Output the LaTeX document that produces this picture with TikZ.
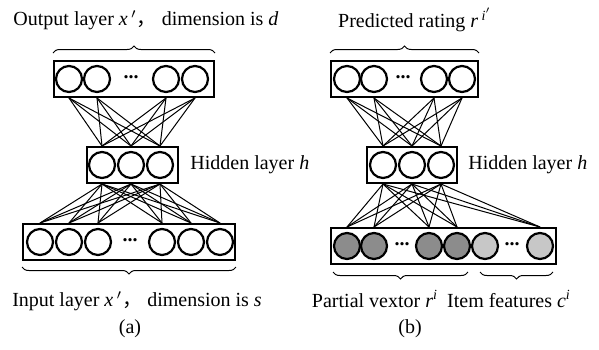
\documentclass[tikz,border=0pt]{standalone}
\usepackage{fontspec}
\setmainfont{Liberation Serif}
\newfontfamily\cjk{Noto Sans CJK SC}
\usepackage{tikz}
\usetikzlibrary{decorations.pathreplacing, positioning}

\begin{document}
\begin{tikzpicture}[x=0.5pt, y=-0.5pt,
            neuron/.style={draw, circle, line width=1.1pt, minimum size=13pt, inner sep=0pt, fill=white},
            layer/.style={draw, rectangle, line width=1pt, minimum height=18pt, inner sep=0pt},
            link/.style={line width=0.5pt},
            brace/.style={decorate, decoration={brace, amplitude=3.5pt}, line width=0.5pt},
            dots/.style={inner sep=0pt, font=\bfseries},
            txt/.style={inner sep=0pt}]

            \useasboundingbox (0,0) rectangle (599,349);

            % (a) autoencoder
            \node[layer, minimum width=80pt] (outa) at (134,79) {};
            \node[layer, minimum width=45.5pt] (hida) at (132.5,165) {};
            \node[layer, minimum width=106pt] (ina) at (129,242) {};

            \node[neuron] (oa1) at (69,79) {};
            \node[neuron] (oa2) at (97,79) {};
            \node[dots] at (131,77) {...};
            \node[neuron] (oa3) at (166,79) {};
            \node[neuron] (oa4) at (195,79) {};

            \node[neuron] (ha1) at (102,165) {};
            \node[neuron] (ha2) at (131,165) {};
            \node[neuron] (ha3) at (160,165) {};

            \node[neuron] (ia1) at (40,242) {};
            \node[neuron] (ia2) at (69,242) {};
            \node[neuron] (ia3) at (98,242) {};
            \node[dots] at (130,240) {...};
            \node[neuron] (ia4) at (162,242) {};
            \node[neuron] (ia5) at (191,242) {};
            \node[neuron] (ia6) at (220,242) {};

            \foreach \o in {oa1,oa2,oa3,oa4}
                \foreach \h in {ha1,ha2,ha3}
                    \draw[link] (\o |- outa.south) -- (\h |- hida.north);
            \foreach \h in {ha1,ha2,ha3}
                \foreach \i in {ia1,ia2,ia3,ia4,ia5,ia6}
                    \draw[link] (\h |- hida.south) -- (\i |- ina.north);

            \draw[brace] (outa.north west) ++(0,-7) coordinate (bra) -- (outa.north east |- bra);
            \draw[brace] (ina.south east) ++(0,6) coordinate (brb) -- (ina.south west |- brb);

            \node[txt] (titlea) at (146,20) {Output layer \textit{x}$\,'${\cjk ，} dimension is \textit{d}};
            \node[txt, anchor=west] (hidlaba) at (190,165) {Hidden layer \textit{h}};
            \node[txt] (inlaba) at (137,301) {Input layer \textit{x}$\,'${\cjk ，} dimension is \textit{s}};
            \node[txt] (capa) at (130,329) {(a)};

            % (b) rating model
            \node[layer, minimum width=73.5pt] (outb) at (404.5,79) {};
            \node[layer, minimum width=45pt] (hidb) at (412,165) {};
            \node[layer, minimum width=112.5pt] (inb) at (443.5,246) {};

            \node[neuron] (ob1) at (347,79) {};
            \node[neuron] (ob2) at (374,79) {};
            \node[dots] at (403,77) {...};
            \node[neuron] (ob3) at (434,79) {};
            \node[neuron] (ob4) at (462,79) {};

            \node[neuron] (hb1) at (383,165) {};
            \node[neuron] (hb2) at (412,165) {};
            \node[neuron] (hb3) at (441,165) {};

            \node[neuron, fill=black!45] (ib1) at (347,246) {};
            \node[neuron, fill=black!45] (ib2) at (374,246) {};
            \node[dots] at (402,244) {...};
            \node[neuron, fill=black!45] (ib3) at (429,246) {};
            \node[neuron, fill=black!45] (ib4) at (457,246) {};
            \node[neuron, fill=black!22] (ic1) at (485,246) {};
            \node[dots] at (512,244) {...};
            \node[neuron, fill=black!22] (ic2) at (540,246) {};

            \foreach \o in {ob1,ob2,ob3,ob4}
                \foreach \h in {hb1,hb2,hb3}
                    \draw[link] (\o |- outb.south) -- (\h |- hidb.north);
            \foreach \h in {hb1,hb2,hb3}
                \foreach \i in {ib1,ib2,ib3,ib4,ic2}
                    \draw[link] (\h |- hidb.south) -- (\i |- inb.north);

            \draw[brace] (outb.north west) ++(0,-7) coordinate (brc) -- (outb.north east |- brc);
            \draw[brace] (468,272) coordinate (brd) -- (333,272);
            \draw[brace] (553,272) coordinate (bre) -- (480,272);

            \node[txt] (titleb) at (415,20) {Predicted rating \textit{r}\,\textsuperscript{\textit{i}$'$}};
            \node[txt, anchor=west] (hidlabb) at (468,165) {Hidden layer \textit{h}};
            \node[txt] (partlab) at (375,299) {Partial vextor \textit{r}\textsuperscript{\textit{i}}};
            \node[txt] (itemlab) at (509,299) {Item features \textit{c}\textsuperscript{\textit{i}}};
            \node[txt] (capb) at (410,329) {(b)};
        \end{tikzpicture}
\end{document}
